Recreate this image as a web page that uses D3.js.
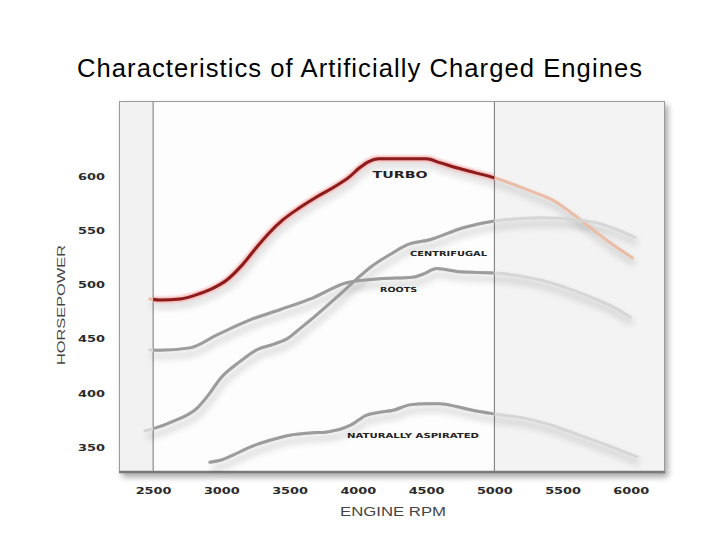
<!DOCTYPE html>
<html>
<head>
<meta charset="utf-8">
<script src="https://cdn.jsdelivr.net/npm/d3@7"></script>
<style>
  html, body { margin: 0; padding: 0; background: #ffffff; }
  svg { display: block; }
</style>
</head>
<body>
<svg id="chart" width="720" height="540"></svg>
<script>
// ---------- DATA ----------
const title = "Characteristics of Artificially Charged Engines";
const xTicks = [2500, 3000, 3500, 4000, 4500, 5000, 5500, 6000];
const yTicks = [350, 400, 450, 500, 550, 600];
const bandEdges = [2500, 5000];

const turboRpm = [2475, 2550, 2700, 2843, 2940, 3040, 3150, 3260, 3350, 3450, 3570, 3700, 3820, 3940, 4010, 4080, 4150, 4300, 4500, 4600, 4730, 4850, 5000, 5240, 5460, 5580, 5826, 6010];
const turboHp  = [487, 486, 487, 492, 497, 504.5, 518, 535, 548, 560, 571, 581.5, 590, 600, 608, 614, 616.5, 616.5, 616.5, 613, 608, 604, 599, 588, 576, 565, 541, 525];

const centRpm = [2440, 2500, 2650, 2822, 2910, 2990, 3136, 3260, 3380, 3480, 3580, 3672, 3850, 3993, 4100, 4235, 4360, 4528, 4771, 5000, 5337, 5722, 6030];
const centHp  = [365, 367, 374, 386, 399, 413, 429, 440, 445, 450, 460, 469.5, 489, 505.6, 517, 528, 537, 541.7, 552.8, 559, 562, 558, 544];

const rootsRpm = [2475, 2550, 2770, 2968, 3210, 3429, 3672, 3918, 4160, 4402, 4480, 4578, 4750, 5000, 5337, 5700, 5870, 5996];
const rootsHp  = [440, 439.5, 441.7, 453.7, 467.6, 477, 488, 502, 505.6, 507, 510, 515, 512, 511, 504.6, 489, 479.6, 470];

const naRpm = [2916, 3000, 3086, 3210, 3350, 3503, 3650, 3775, 3943, 4065, 4150, 4260, 4380, 4500, 4600, 4720, 4840, 5000, 5213, 5400, 5580, 5800, 6045];
const naHp  = [336, 338, 342.6, 350, 356, 361, 363, 364, 370, 379.6, 382, 384, 389, 390, 390, 387.5, 384, 380.6, 377, 371, 363, 353, 341];

const seriesNames = ["TURBO", "CENTRIFUGAL", "ROOTS", "NATURALLY ASPIRATED"];
const labelRpm = [4309, 4664, 4298, 4404];
const labelHp  = [601.9, 528.7, 495.4, 361];

// ---------- LAYOUT ----------
const svg = d3.select("#chart");
const frame = { left: 119, right: 665, top: 101, bottom: 473 };
const x = d3.scaleLinear().domain([2250, 6250]).range([frame.left, frame.right]);
const y = d3.scaleLinear().domain([326, 670]).range([frame.bottom, frame.top]);

const defs = svg.append("defs");
const fs = defs.append("filter").attr("id", "frameShadow").attr("x", "-10%").attr("y", "-10%").attr("width", "120%").attr("height", "120%");
fs.append("feGaussianBlur").attr("stdDeviation", 3);
const ls = defs.append("filter").attr("id", "lineShadow").attr("x", "-10%").attr("y", "-20%").attr("width", "120%").attr("height", "140%");
ls.append("feGaussianBlur").attr("stdDeviation", 3);
const glow = defs.append("filter").attr("id", "glow").attr("x", "-10%").attr("y", "-20%").attr("width", "120%").attr("height", "140%");
glow.append("feGaussianBlur").attr("stdDeviation", 1.2);

defs.append("clipPath").attr("id", "midClip").append("rect")
  .attr("x", x(bandEdges[0])).attr("y", frame.top)
  .attr("width", x(bandEdges[1]) - x(bandEdges[0])).attr("height", frame.bottom - frame.top);
defs.append("clipPath").attr("id", "frameClip").append("rect")
  .attr("x", frame.left).attr("y", frame.top)
  .attr("width", frame.right - frame.left).attr("height", frame.bottom - frame.top);

// Title
svg.append("text").attr("x", 77).attr("y", 76.5).attr("text-anchor", "start")
  .attr("font-family", "Liberation Sans, Arial, sans-serif").attr("font-size", 25.6)
  .attr("fill", "#000").attr("textLength", 565).attr("lengthAdjust", "spacing").text(title);

// Frame shadow
svg.append("rect").attr("x", frame.left + 3).attr("y", frame.top + 4)
  .attr("width", frame.right - frame.left).attr("height", frame.bottom - frame.top)
  .attr("fill", "#000").attr("opacity", 0.35).attr("filter", "url(#frameShadow)");

// Bands
svg.append("rect").attr("x", frame.left).attr("y", frame.top)
  .attr("width", x(bandEdges[0]) - frame.left).attr("height", frame.bottom - frame.top).attr("fill", "#f2f2f2");
svg.append("rect").attr("x", x(bandEdges[0])).attr("y", frame.top)
  .attr("width", x(bandEdges[1]) - x(bandEdges[0])).attr("height", frame.bottom - frame.top).attr("fill", "#fdfdfd");
svg.append("rect").attr("x", x(bandEdges[1])).attr("y", frame.top)
  .attr("width", frame.right - x(bandEdges[1])).attr("height", frame.bottom - frame.top).attr("fill", "#f3f3f3");

// Vertical band lines
svg.selectAll(".band-line").data(bandEdges).enter().append("line")
  .attr("x1", d => x(d)).attr("x2", d => x(d))
  .attr("y1", frame.top).attr("y2", frame.bottom)
  .attr("stroke", "#777").attr("stroke-width", 1);

// Frame border
svg.append("rect").attr("x", frame.left + 0.5).attr("y", frame.top + 0.5)
  .attr("width", frame.right - frame.left - 1).attr("height", frame.bottom - frame.top - 1)
  .attr("fill", "none").attr("stroke", "#9a9a9a").attr("stroke-width", 1);
svg.append("line").attr("x1", frame.left).attr("x2", frame.right)
  .attr("y1", frame.bottom - 1).attr("y2", frame.bottom - 1)
  .attr("stroke", "#7a7a7a").attr("stroke-width", 2.5);

// Lines
const line = d3.line().x(d => x(d[0])).y(d => y(d[1])).curve(d3.curveMonotoneX);
const zip = (a, b) => a.map((v, i) => [v, b[i]]);
const series = [
  { pts: zip(turboRpm, turboHp), dark: "#8c1c1c", light: "#ecbda6", turbo: true },
  { pts: zip(centRpm, centHp), dark: "#9c9c9c", light: "#d6d6d6" },
  { pts: zip(rootsRpm, rootsHp), dark: "#9c9c9c", light: "#d6d6d6" },
  { pts: zip(naRpm, naHp), dark: "#9c9c9c", light: "#d6d6d6" }
];

const plot = svg.append("g").attr("clip-path", "url(#frameClip)");
series.forEach(s => {
  plot.append("path").attr("d", line(s.pts)).attr("fill", "none")
    .attr("stroke", "#000").attr("stroke-opacity", 0.13).attr("stroke-width", 6)
    .attr("transform", "translate(2,6)").attr("filter", "url(#lineShadow)");
});
series.forEach(s => {
  plot.append("path").attr("d", line(s.pts)).attr("fill", "none")
    .attr("stroke", s.light).attr("stroke-width", 3).attr("stroke-linecap", "round");
});
const mid = plot.append("g").attr("clip-path", "url(#midClip)");
series.forEach(s => {
  if (s.turbo) {
    mid.append("path").attr("d", line(s.pts)).attr("fill", "none")
      .attr("stroke", "#f4a0a0").attr("stroke-width", 6.5).attr("stroke-opacity", 0.7)
      .attr("filter", "url(#glow)");
  }
  mid.append("path").attr("d", line(s.pts)).attr("fill", "none")
    .attr("stroke", s.dark).attr("stroke-width", 3).attr("stroke-linecap", "round");
});

// Series labels
const labelWidths = [55, 77, 37, 132];
const labelSizes = [9.5, 7, 7, 7];
svg.selectAll(".series-label").data(seriesNames).enter().append("text")
  .attr("x", (d, i) => x(labelRpm[i])).attr("y", (d, i) => y(labelHp[i]))
  .attr("dy", "0.36em").attr("text-anchor", "middle")
  .attr("font-family", "DejaVu Sans, sans-serif").attr("font-weight", "bold")
  .attr("font-size", (d, i) => labelSizes[i]).attr("fill", "#222")
  .attr("textLength", (d, i) => labelWidths[i]).attr("lengthAdjust", "spacingAndGlyphs")
  .text(d => d);

// X axis ticks
const xAxis = d3.axisBottom(x).tickValues(xTicks).tickSize(0).tickPadding(0).tickFormat(d3.format("d"));
const gx = svg.append("g").attr("transform", `translate(0, 488)`).call(xAxis);
gx.select(".domain").remove();
gx.selectAll("text").attr("font-family", "DejaVu Sans, sans-serif").attr("font-weight", "bold")
  .attr("font-size", 8.5).attr("fill", "#2a2a2a").attr("dy", "0.71em")
  .attr("textLength", 36).attr("lengthAdjust", "spacingAndGlyphs");

// Y axis ticks
const yAxis = d3.axisLeft(y).tickValues(yTicks).tickSize(0).tickPadding(0).tickFormat(d3.format("d"));
const gy = svg.append("g").attr("transform", `translate(91.5, 0)`).call(yAxis);
gy.select(".domain").remove();
gy.selectAll("text").attr("text-anchor", "middle").attr("font-family", "DejaVu Sans, sans-serif")
  .attr("font-weight", "bold").attr("font-size", 8.5).attr("fill", "#2a2a2a").attr("dy", "0.36em")
  .attr("textLength", 27).attr("lengthAdjust", "spacingAndGlyphs");

// Axis titles
svg.append("text").attr("x", 393).attr("y", 516).attr("text-anchor", "middle")
  .attr("font-family", "Liberation Sans, Arial, sans-serif").attr("font-size", 12.5)
  .attr("fill", "#444").attr("textLength", 106).attr("lengthAdjust", "spacingAndGlyphs")
  .text("ENGINE RPM");
svg.append("text").attr("transform", "translate(64.5,305) rotate(-90)").attr("text-anchor", "middle")
  .attr("font-family", "Liberation Sans, Arial, sans-serif").attr("font-size", 10.2)
  .attr("fill", "#444").attr("textLength", 120).attr("lengthAdjust", "spacingAndGlyphs")
  .text("HORSEPOWER");
</script>
</body>
</html>
